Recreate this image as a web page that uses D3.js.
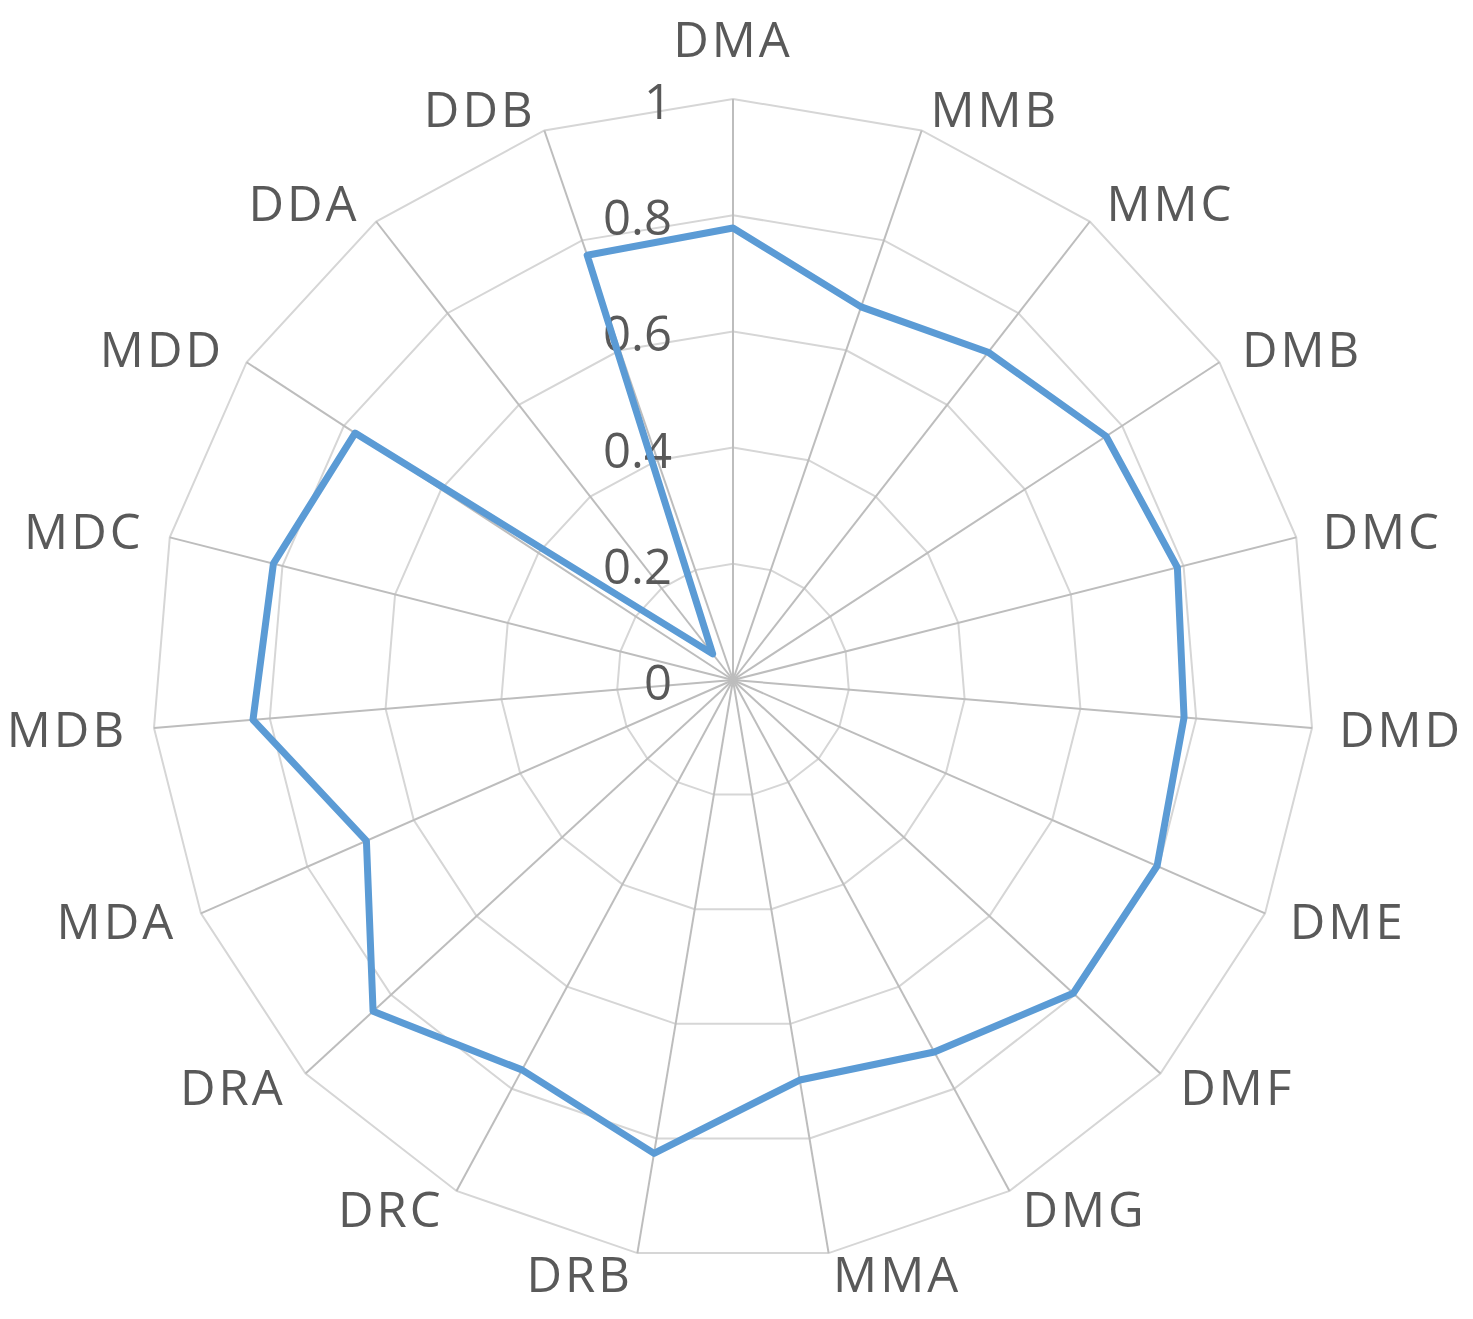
<!DOCTYPE html>
<html><head><meta charset="utf-8">
<script src="https://cdn.jsdelivr.net/npm/d3@7"></script>
<style>body{margin:0;background:#fff}svg{display:block}</style>
</head><body><svg id="chart" width="1473" height="1319"></svg>
<script>
const categories = ["DMA","MMB","MMC","DMB","DMC","DMD","DME","DMF","DMG","MMA","DRB","DRC","DRA","MDA","MDB","MDC","MDD","DDA","DDB"];
const values = [0.778,0.679,0.715,0.767,0.789,0.779,0.797,0.796,0.728,0.698,0.826,0.763,0.842,0.689,0.829,0.816,0.777,0.057,0.773];
const tickValues = [0,0.2,0.4,0.6,0.8,1];
const tickLabels = ["0","0.2","0.4","0.6","0.8","1"];

const cx = 733, cy = 680, R = 581;
const n = categories.length;
const svg = d3.select("#chart");
const r = d3.scaleLinear().domain([0,1]).range([0,R]);
const ang = d3.scaleLinear().domain([0,n]).range([0,2*Math.PI]);
const g = svg.append("g").attr("transform",`translate(${cx},${cy})`);
const textColor = "#595959";
const fontFam = "'Open Sans','Noto Sans',sans-serif";

// rings
const ringLine = d3.lineRadial().angle((d,i)=>ang(i)).radius(d=>r(d)).curve(d3.curveLinearClosed);
tickValues.filter(t=>t>0).forEach(t=>{
  g.append("path").attr("d", ringLine(categories.map(()=>t)))
   .attr("fill","none").attr("stroke","#d6d6d6").attr("stroke-width",2);
});
// spokes
g.selectAll("line.spoke").data(categories).join("line").attr("class","spoke")
  .attr("x1",0).attr("y1",0)
  .attr("x2",(d,i)=>r(1)*Math.sin(ang(i)))
  .attr("y2",(d,i)=>-r(1)*Math.cos(ang(i)))
  .attr("stroke","#bdbdbd").attr("stroke-width",2);

// tick labels
g.selectAll("text.tick").data(tickValues).join("text").attr("class","tick")
  .attr("x",-61).attr("y",d=>-r(d)+20)
  .attr("text-anchor","end").attr("font-family",fontFam).attr("font-size",49)
  .attr("fill",textColor).text((d,i)=>tickLabels[i]);

// data line
const dataLine = d3.lineRadial().angle((d,i)=>ang(i)).radius(d=>r(d)).curve(d3.curveLinearClosed);
g.append("path").attr("d",dataLine(values)).attr("fill","none")
  .attr("stroke","#5b9bd5").attr("stroke-width",7).attr("stroke-linejoin","round");

// category labels
g.selectAll("text.cat").data(categories).join("text").attr("class","cat")
  .each(function(d,i){
    const a = ang(i), s = Math.sin(a), c = Math.cos(a);
    const px = r(1)*s, py = -r(1)*c;
    const el = d3.select(this);
    if (Math.abs(s) < 0.05) {
      el.attr("x",px).attr("y",py-42).attr("text-anchor","middle");
    } else {
      el.attr("x",px+27*s).attr("y",py-22*c+17).attr("text-anchor", s>0?"start":"end");
    }
  })
  .attr("font-family",fontFam).attr("font-size",49).attr("letter-spacing",3)
  .attr("fill",textColor).text(d=>d);
</script></body></html>
